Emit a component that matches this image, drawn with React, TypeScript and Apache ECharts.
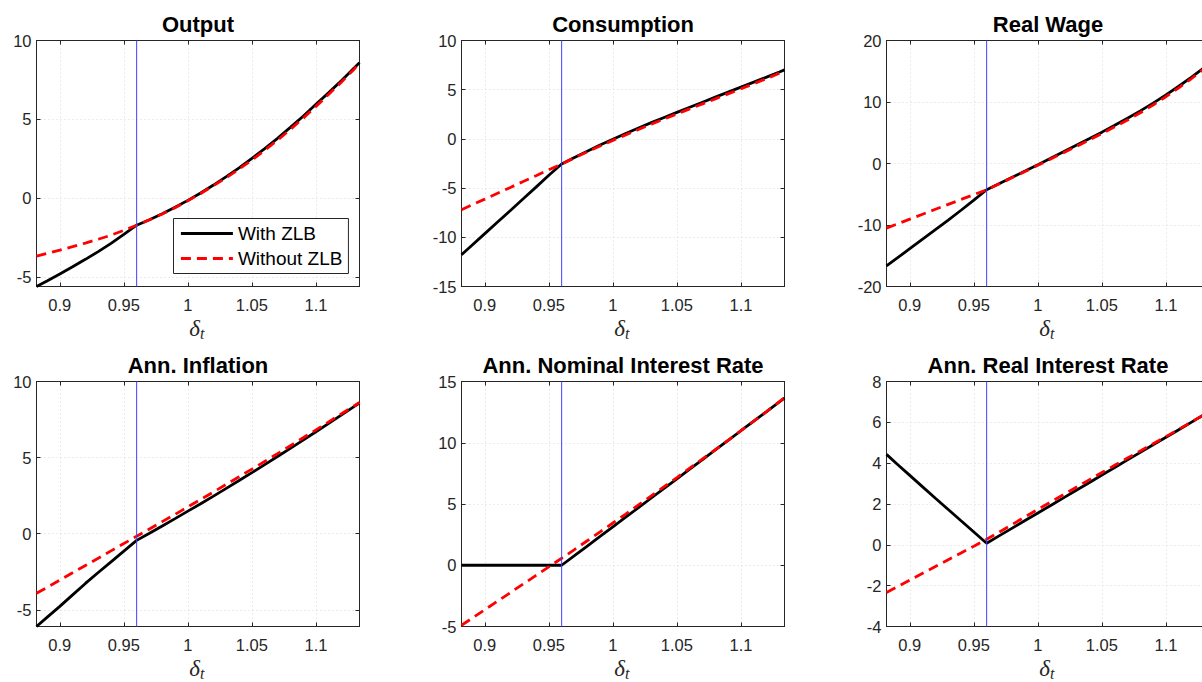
import { useEffect, useRef } from "react";
import * as echarts from "echarts";

// Discount-factor shock grid (x axis of every panel)
const DELTA = [
  0.8818, 0.89, 0.9, 0.91, 0.92, 0.93, 0.94, 0.95, 0.96, 0.97, 0.98, 0.99, 1.0,
  1.01, 1.02, 1.03, 1.04, 1.05, 1.06, 1.07, 1.08, 1.09, 1.1, 1.11, 1.12, 1.13, 1.134,
];
const DELTA_MIN = 0.8818;
const DELTA_MAX = 1.134;
const DELTA_TICKS = [0.9, 0.95, 1, 1.05, 1.1];
// Shock size at which the zero lower bound starts to bind
const ZLB_BIND = 0.96;

const OUTPUT_ZLB = [
  -5.57, -5.22, -4.78, -4.32, -3.85, -3.36, -2.84, -2.27, -1.69, -1.34, -0.97, -0.56, -0.12,
  0.35, 0.85, 1.38, 1.94, 2.54, 3.16, 3.81, 4.5, 5.21, 5.96, 6.7, 7.47, 8.27, 8.6,
];
const OUTPUT_NO_ZLB = [
  -3.65, -3.48, -3.27, -3.05, -2.82, -2.58, -2.32, -2.02, -1.69, -1.35, -0.98, -0.58, -0.14,
  0.32, 0.81, 1.32, 1.86, 2.44, 3.05, 3.69, 4.37, 5.08, 5.83, 6.6, 7.38, 8.2, 8.6,
];

const CONS_ZLB = [
  -11.78, -10.81, -9.63, -8.45, -7.27, -6.09, -4.9, -3.7, -2.55, -1.89, -1.25, -0.63, -0.03,
  0.55, 1.11, 1.65, 2.18, 2.7, 3.22, 3.73, 4.24, 4.75, 5.26, 5.77, 6.28, 6.8, 7.01,
];
const CONS_NO_ZLB = [
  -7.2, -6.71, -6.12, -5.52, -4.93, -4.33, -3.74, -3.14, -2.55, -1.93, -1.32, -0.72, -0.15,
  0.41, 0.96, 1.5, 2.02, 2.54, 3.05, 3.56, 4.07, 4.58, 5.09, 5.61, 6.13, 6.67, 6.92,
];

const WAGE_ZLB = [
  -16.64, -15.4, -13.85, -12.3, -10.75, -9.2, -7.6, -5.95, -4.27, -3.26, -2.24, -1.22, -0.19,
  0.85, 1.9, 2.96, 4.02, 5.1, 6.21, 7.36, 8.56, 9.82, 11.15, 12.56, 14.05, 15.62, 16.3,
];
const WAGE_NO_ZLB = [
  -10.5, -9.85, -9.05, -8.25, -7.45, -6.65, -5.85, -5.06, -4.27, -3.29, -2.29, -1.3, -0.29,
  0.73, 1.75, 2.78, 3.82, 4.88, 5.96, 7.08, 8.26, 9.52, 10.86, 12.3, 13.82, 15.45, 16.2,
];

const INFL_ZLB = [
  -6.1, -5.5, -4.78, -4.02, -3.27, -2.55, -1.85, -1.15, -0.44, 0.03, 0.51, 0.99, 1.48,
  1.97, 2.47, 2.98, 3.49, 4.01, 4.54, 5.07, 5.61, 6.15, 6.7, 7.25, 7.81, 8.37, 8.59,
];
const INFL_NO_ZLB = [
  -3.92, -3.53, -3.05, -2.57, -2.09, -1.61, -1.13, -0.65, -0.17, 0.31, 0.79, 1.27, 1.76,
  2.25, 2.74, 3.24, 3.74, 4.24, 4.75, 5.26, 5.78, 6.3, 6.82, 7.35, 7.88, 8.41, 8.62,
];

const NOM_ZLB = [
  0, 0, 0, 0, 0, 0, 0, 0, 0, 0.78, 1.57, 2.35, 3.14,
  3.92, 4.7, 5.49, 6.27, 7.06, 7.84, 8.62, 9.41, 10.19, 10.98, 11.76, 12.54, 13.33, 13.65,
];
const NOM_NO_ZLB = [
  -4.9, -4.33, -3.63, -2.93, -2.23, -1.53, -0.83, -0.13, 0.57, 1.28, 2.0, 2.72, 3.45,
  4.18, 4.92, 5.66, 6.41, 7.16, 7.92, 8.68, 9.44, 10.2, 10.98, 11.76, 12.55, 13.35, 13.7,
];

const REAL_ZLB = [
  4.43, 3.96, 3.4, 2.84, 2.28, 1.73, 1.18, 0.63, 0.08, 0.45, 0.82, 1.19, 1.56,
  1.93, 2.3, 2.67, 3.04, 3.42, 3.79, 4.16, 4.53, 4.9, 5.27, 5.64, 6.01, 6.38, 6.53,
];
const REAL_NO_ZLB = [
  -2.33, -2.06, -1.73, -1.39, -1.06, -0.73, -0.4, -0.07, 0.27, 0.63, 1.0, 1.37, 1.74,
  2.1, 2.46, 2.82, 3.18, 3.54, 3.9, 4.25, 4.6, 4.95, 5.3, 5.66, 6.02, 6.39, 6.54,
];

const TITLES = [
  "Output",
  "Consumption",
  "Real Wage",
  "Ann. Inflation",
  "Ann. Nominal Interest Rate",
  "Ann. Real Interest Rate",
];
const WITH_ZLB = [OUTPUT_ZLB, CONS_ZLB, WAGE_ZLB, INFL_ZLB, NOM_ZLB, REAL_ZLB];
const WITHOUT_ZLB = [OUTPUT_NO_ZLB, CONS_NO_ZLB, WAGE_NO_ZLB, INFL_NO_ZLB, NOM_NO_ZLB, REAL_NO_ZLB];
const Y_MIN = [-5.57, -15, -20, -6.1, -5, -4];
const Y_MAX = [10, 10, 20, 10, 15, 8];
const Y_TICKS = [
  [-5, 0, 5, 10],
  [-15, -10, -5, 0, 5, 10],
  [-20, -10, 0, 10, 20],
  [-5, 0, 5, 10],
  [-5, 0, 5, 10, 15],
  [-4, -2, 0, 2, 4, 6, 8],
];
const SERIES_NAMES = ["With ZLB", "Without ZLB"];

// Layout (pixels)
const COL_X = [36.5, 461.5, 886.5];
const ROW_Y = [40.5, 381.5];
const PLOT_W = 323;
const PLOT_H = [246, 245];

const SANS = "'Liberation Sans', Arial, Helvetica, sans-serif";
const SERIF = "'Liberation Serif', 'DejaVu Serif', 'Times New Roman', serif";
const AXIS_COLOR = "#262626";
const GRID_COLOR = "#d9d9d9";
const LINE_W = 2.8;

function buildOption() {
  const grid: any[] = [];
  const xAxis: any[] = [];
  const yAxis: any[] = [];
  const series: any[] = [];
  const graphic: any[] = [];

  TITLES.forEach((title, i) => {
    const col = i % 3;
    const row = Math.floor(i / 3);
    const left = COL_X[col];
    const top = ROW_Y[row];
    const h = PLOT_H[row];
    const cx = left + PLOT_W / 2;

    grid.push({
      left,
      top,
      width: PLOT_W,
      height: h,
      show: false,
      containLabel: false,
      outerBoundsMode: "none",
    });

    const axisLine = { show: true, onZero: false, lineStyle: { color: AXIS_COLOR, width: 1 } };
    const tickStyle = { color: AXIS_COLOR, width: 1 };
    const labelStyle = {
      color: AXIS_COLOR,
      fontSize: 16.5,
      fontFamily: SANS,
      formatter: (v: number) => String(v),
    };
    const splitLine = {
      show: true,
      lineStyle: { color: GRID_COLOR, width: 1, type: [1, 3] },
    };

    xAxis.push({
      gridIndex: i,
      type: "value",
      min: DELTA_MIN,
      max: DELTA_MAX,
      position: "bottom",
      axisLine,
      axisTick: { show: true, inside: true, length: 4, customValues: DELTA_TICKS, lineStyle: tickStyle },
      axisLabel: { ...labelStyle, margin: 10, customValues: DELTA_TICKS },
      splitLine,
    });
    xAxis.push({
      gridIndex: i,
      type: "value",
      min: DELTA_MIN,
      max: DELTA_MAX,
      position: "top",
      axisLine,
      axisTick: { show: true, inside: true, length: 4, customValues: DELTA_TICKS, lineStyle: tickStyle },
      axisLabel: { show: false },
      splitLine: { show: false },
    });
    yAxis.push({
      gridIndex: i,
      type: "value",
      min: Y_MIN[i],
      max: Y_MAX[i],
      position: "left",
      axisLine,
      axisTick: { show: true, inside: true, length: 4, customValues: Y_TICKS[i], lineStyle: tickStyle },
      axisLabel: { ...labelStyle, margin: 5, customValues: Y_TICKS[i] },
      splitLine,
    });
    yAxis.push({
      gridIndex: i,
      type: "value",
      min: Y_MIN[i],
      max: Y_MAX[i],
      position: "right",
      axisLine,
      axisTick: { show: true, inside: true, length: 4, customValues: Y_TICKS[i], lineStyle: tickStyle },
      axisLabel: { show: false },
      splitLine: { show: false },
    });

    series.push({
      name: SERIES_NAMES[0],
      type: "line",
      xAxisIndex: 2 * i,
      yAxisIndex: 2 * i,
      data: DELTA.map((d, k) => [d, WITH_ZLB[i][k]]),
      symbol: "none",
      smooth: false,
      lineStyle: { color: "#000000", width: LINE_W, type: "solid" },
      itemStyle: { color: "#000000" },
      z: 3,
    });
    series.push({
      name: SERIES_NAMES[1],
      type: "line",
      xAxisIndex: 2 * i,
      yAxisIndex: 2 * i,
      data: DELTA.map((d, k) => [d, WITHOUT_ZLB[i][k]]),
      symbol: "none",
      smooth: false,
      lineStyle: { color: "#ff0000", width: LINE_W, type: [10, 6] },
      itemStyle: { color: "#ff0000" },
      z: 4,
    });
    series.push({
      type: "line",
      xAxisIndex: 2 * i,
      yAxisIndex: 2 * i,
      data: [
        [ZLB_BIND, Y_MIN[i]],
        [ZLB_BIND, Y_MAX[i]],
      ],
      symbol: "none",
      lineStyle: { color: "#4040ff", width: 1 },
      z: 5,
      silent: true,
    });

    // Panel title
    graphic.push({
      type: "text",
      x: cx,
      y: top - 16,
      style: {
        text: title,
        font: `bold 22px ${SANS}`,
        fill: "#000000",
        align: "center",
        verticalAlign: "middle",
        textAlign: "center",
        textVerticalAlign: "middle",
      },
      z: 10,
    });
    // x-axis label: delta_t
    const base = top + h;
    graphic.push({
      type: "text",
      x: cx + 2,
      y: base + 42,
      style: {
        text: "δ",
        font: `italic 23px ${SERIF}`,
        fill: AXIS_COLOR,
        align: "right",
        verticalAlign: "middle",
        textAlign: "right",
        textVerticalAlign: "middle",
      },
      z: 10,
    });
    graphic.push({
      type: "text",
      x: cx + 2,
      y: base + 47,
      style: {
        text: "t",
        font: `italic 16px ${SERIF}`,
        fill: AXIS_COLOR,
        align: "left",
        verticalAlign: "middle",
        textAlign: "left",
        textVerticalAlign: "middle",
      },
      z: 10,
    });
  });

  return {
    animation: false,
    backgroundColor: "#ffffff",
    grid,
    xAxis,
    yAxis,
    series,
    graphic,
    legend: {
      data: SERIES_NAMES,
      orient: "vertical",
      left: 173.5,
      top: 218.5,
      padding: [5, 6, 5, 6],
      itemGap: 5,
      itemWidth: 52,
      itemHeight: 14,
      backgroundColor: "#ffffff",
      borderColor: "#262626",
      borderWidth: 1,
      borderRadius: 0,
      selectedMode: false,
      itemStyle: { opacity: 0 },
      lineStyle: { width: LINE_W },
      textStyle: { fontSize: 19, lineHeight: 20, color: "#000000", fontFamily: SANS },
      z: 20,
    },
  };
}

export default function App() {
  const ref = useRef<HTMLDivElement>(null);

  useEffect(() => {
    if (!ref.current) return;
    const chart = echarts.init(ref.current, null, { renderer: "svg" });
    chart.setOption(buildOption() as any);
    return () => chart.dispose();
  }, []);

  return (
    <div
      ref={ref}
      style={{ position: "fixed", left: 0, top: 0, width: 1202, height: 682, background: "#ffffff" }}
    />
  );
}
